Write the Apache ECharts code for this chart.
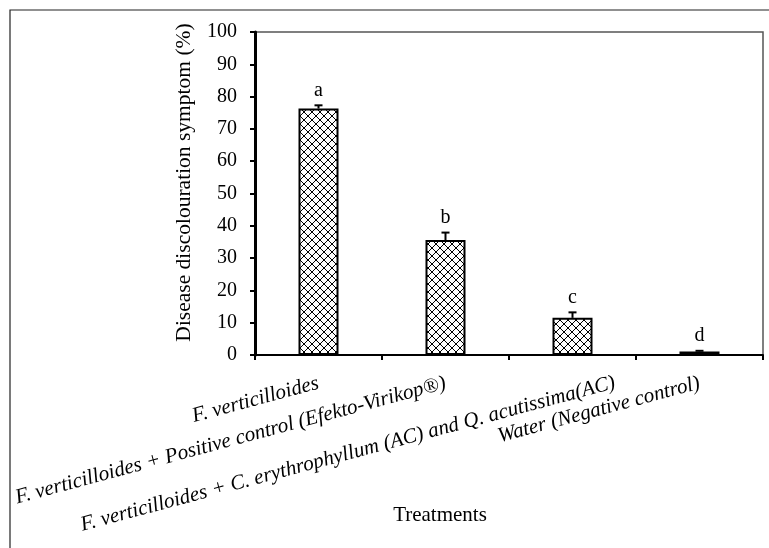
<!DOCTYPE html>
<html>
<head>
<meta charset="utf-8">
<script src="https://cdn.jsdelivr.net/npm/echarts@6/dist/echarts.min.js"></script>
<style>
  html, body { margin: 0; padding: 0; background: #fff; }
  #chart { width: 769px; height: 548px; }
</style>
</head>
<body>
<div id="chart"></div>
<script>
// Treatments and their mean disease discolouration (%) with standard error
const categories = [
  'F. verticilloides',
  'F. verticilloides + Positive control (Efekto-Virikop\u00AE)',
  'F. verticilloides + C. erythrophyllum (AC) and Q. acutissima(AC)',
  'Water (Negative control)'
];
const meanValues = [76.3, 35.6, 11.5, 1.1];
const errorValues = [1.0, 2.3, 1.7, 0.2];
const groupLetters = ['a', 'b', 'c', 'd'];
const yTickMin = 0, yTickMax = 100, yTickStep = 10;

const FONT = '"Liberation Serif", "Times New Roman", serif';

// Cross-hatch fill for the bars
function makeHatch() {
  const size = 8;
  const c = document.createElement('canvas');
  c.width = size; c.height = size;
  const g = c.getContext('2d');
  g.fillStyle = '#fff';
  g.fillRect(0, 0, size, size);
  g.strokeStyle = '#000';
  g.lineWidth = 1;
  g.beginPath();
  g.moveTo(0, 0); g.lineTo(size, size);
  g.moveTo(size, 0); g.lineTo(0, size);
  g.stroke();
  return c;
}

const chart = echarts.init(document.getElementById('chart'), null, { renderer: 'canvas' });

// The longest label sits a little further right and lower than the others
const catData = categories.map(function (name, i) {
  const item = { value: name };
  if (i === 2) item.textStyle = { padding: [0, -41, 0, 0], verticalAlign: 'top' };
  return item;
});

chart.setOption({
  animation: false,
  backgroundColor: '#fff',
  grid: {
    left: 255, right: 6, top: 32, bottom: 193,
    show: true, borderColor: '#555', borderWidth: 1.5, backgroundColor: 'transparent'
  },
  xAxis: {
    type: 'category',
    data: catData,
    axisLine: { lineStyle: { color: '#000', width: 2 } },
    axisTick: { show: true, alignWithLabel: false, length: 5, lineStyle: { color: '#000', width: 2 } },
    axisLabel: {
      interval: 0, rotate: 15, margin: 28,
      fontFamily: FONT, fontStyle: 'italic', fontSize: 21, color: '#000'
    }
  },
  yAxis: {
    type: 'value',
    min: yTickMin, max: yTickMax, interval: yTickStep,
    name: 'Disease discolouration symptom (%)',
    nameLocation: 'middle', nameGap: 60,
    nameTextStyle: { fontFamily: FONT, fontSize: 21.5, color: '#000', padding: [0, 0, 0, 22] },
    splitLine: { show: false },
    axisLine: { show: true, lineStyle: { color: '#000', width: 3 } },
    axisTick: { show: true, length: 5, lineStyle: { color: '#000', width: 2 } },
    axisLabel: { fontFamily: FONT, fontSize: 20, color: '#000', margin: 18 }
  },
  graphic: [
    {
      type: 'rect', silent: true, z: -1,
      shape: { x: 10, y: 10, width: 800, height: 600 },
      style: { fill: 'none', stroke: '#222', lineWidth: 1.2 }
    },
    {
      type: 'text', x: 440, y: 515,
      style: {
        text: 'Treatments', fontFamily: FONT, fontSize: 21, fill: '#000',
        textAlign: 'center', textVerticalAlign: 'middle'
      }
    }
  ],
  series: [
    {
      type: 'bar',
      data: meanValues,
      barWidth: 40,
      itemStyle: {
        color: { image: makeHatch(), repeat: 'repeat' },
        borderColor: '#000', borderWidth: 2
      },
      z: 2
    },
    {
      type: 'custom',
      z: 3,
      data: meanValues.map(function (v, i) { return [i, v, errorValues[i]]; }),
      renderItem: function (params, api) {
        const i = api.value(0), v = api.value(1), e = api.value(2);
        const base = api.coord([i, v]);
        const top = api.coord([i, v + e]);
        const half = 4;
        return {
          type: 'group',
          children: [
            {
              type: 'line',
              shape: { x1: base[0], y1: base[1], x2: top[0], y2: top[1] },
              style: { stroke: '#000', lineWidth: 2 }
            },
            {
              type: 'line',
              shape: { x1: top[0] - half, y1: top[1], x2: top[0] + half, y2: top[1] },
              style: { stroke: '#000', lineWidth: 2 }
            },
            {
              type: 'text',
              x: top[0], y: top[1] - 15,
              style: {
                text: groupLetters[i], fontFamily: FONT, fontSize: 20, fill: '#000',
                textAlign: 'center', textVerticalAlign: 'middle'
              }
            }
          ]
        };
      }
    }
  ]
});
</script>
</body>
</html>
